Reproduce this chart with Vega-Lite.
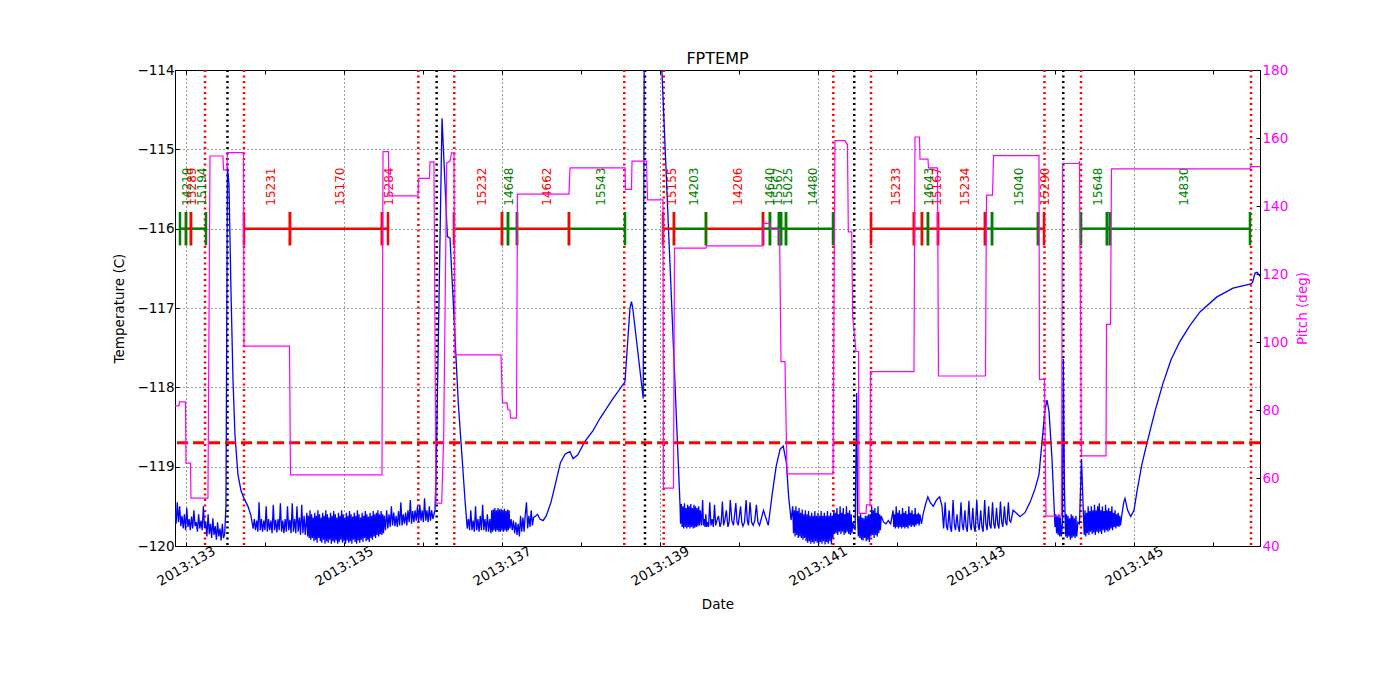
{
"$schema": "https://vega.github.io/schema/vega-lite/v6.json",
"width": 1085, "height": 476,
"autosize": {"type": "none"},
"padding": {"left": 175, "top": 70, "right": 140, "bottom": 154},
"title": {"text": "FPTEMP", "fontSize": 16, "fontWeight": "normal", "font": "DejaVu Sans", "offset": -4, "color": "black"},
"config": {
  "font": "DejaVu Sans",
  "view": {"stroke": "black", "strokeWidth": 1},
  "axis": {"labelFont": "DejaVu Sans", "labelFontSize": 13.5, "titleFont": "DejaVu Sans", "titleFontSize": 13.5, "titleFontWeight": "normal", "labelColor": "black", "titleColor": "black", "tickColor": "black", "domain": false, "gridColor": "black", "gridDash": [1, 3], "gridWidth": 0.8, "tickSize": -4, "tickWidth": 1}
},
"datasets": {
"ev": [{"d":133.241,"k":"rad"},{"d":133.734,"k":"rad"},{"d":135.941,"k":"rad"},{"d":136.396,"k":"rad"},{"d":138.548,"k":"rad"},{"d":139.047,"k":"rad"},{"d":141.194,"k":"rad"},{"d":141.671,"k":"rad"},{"d":143.867,"k":"rad"},{"d":144.329,"k":"rad"},{"d":146.481,"k":"rad"},
{"d":133.525,"k":"peri"},{"d":136.173,"k":"peri"},{"d":138.81,"k":"peri"},{"d":141.459,"k":"peri"},{"d":144.105,"k":"peri"}],
"seg": [
{"s":132.924,"e":133.000,"id":"14219","cat":"b"},
{"s":133.000,"e":133.063,"id":"15289","cat":"a"},
{"s":133.063,"e":133.253,"id":"15194","cat":"b"},
{"s":133.734,"e":134.316,"id":"15231","cat":"a"},
{"s":134.316,"e":135.481,"id":"15170","cat":"a"},
{"s":135.481,"e":135.557,"id":"15284","cat":"a"},
{"s":136.392,"e":137.000,"id":"15232","cat":"a"},
{"s":137.000,"e":137.076,"id":"14648","cat":"b"},
{"s":137.076,"e":137.190,"id":"","cat":"b"},
{"s":137.190,"e":137.848,"id":"14662","cat":"a"},
{"s":137.848,"e":138.557,"id":"15543","cat":"b"},
{"s":139.038,"e":139.177,"id":"15155","cat":"a"},
{"s":139.177,"e":139.582,"id":"14203","cat":"b"},
{"s":139.582,"e":140.304,"id":"14206","cat":"a"},
{"s":140.304,"e":140.392,"id":"14640","cat":"b"},
{"s":140.392,"e":140.506,"id":"15567","cat":"b"},
{"s":140.506,"e":140.532,"id":"","cat":"b"},
{"s":140.532,"e":140.595,"id":"15025","cat":"b"},
{"s":140.595,"e":141.190,"id":"14480","cat":"b"},
{"s":141.671,"e":142.215,"id":"15233","cat":"a"},
{"s":142.215,"e":142.316,"id":"","cat":"a"},
{"s":142.316,"e":142.392,"id":"14643","cat":"b"},
{"s":142.392,"e":142.519,"id":"15167","cat":"a"},
{"s":142.519,"e":143.114,"id":"15234","cat":"a"},
{"s":143.114,"e":143.203,"id":"","cat":"b"},
{"s":143.203,"e":143.785,"id":"15040","cat":"b"},
{"s":143.785,"e":143.861,"id":"15290","cat":"a"},
{"s":144.329,"e":144.658,"id":"15648","cat":"b"},
{"s":144.658,"e":144.696,"id":"","cat":"b"},
{"s":144.696,"e":146.468,"id":"14830","cat":"b"}
],
"pitch": [
{"d":132.861,"p":81.2},{"d":132.911,"p":81.2},{"d":132.918,"p":82.4},{"d":132.994,"p":82.4},{"d":133.0,"p":64.4},{"d":133.057,"p":64.4},{"d":133.063,"p":54.1},{"d":133.278,"p":54.1},{"d":133.304,"p":154.7},{"d":133.468,"p":154.7},{"d":133.475,"p":150.6},{"d":133.519,"p":150.6},{"d":133.525,"p":155.7},{"d":133.728,"p":155.7},{"d":133.734,"p":98.8},{"d":134.31,"p":98.8},{"d":134.323,"p":60.9},{"d":135.481,"p":60.9},{"d":135.494,"p":156.0},{"d":135.563,"p":156.0},{"d":135.57,"p":143.0},{"d":135.937,"p":143.0},{"d":135.943,"p":148.1},{"d":136.082,"p":148.1},{"d":136.089,"p":153.0},{"d":136.139,"p":153.0},{"d":136.165,"p":52.6},{"d":136.237,"p":52.6},{"d":136.262,"p":72.1},{"d":136.3,"p":152.6},{"d":136.342,"p":153.2},{"d":136.361,"p":155.6},{"d":136.392,"p":155.6},{"d":136.405,"p":96.2},{"d":136.987,"p":96.2},{"d":137.006,"p":82.1},{"d":137.063,"p":82.1},{"d":137.076,"p":80.0},{"d":137.101,"p":80.0},{"d":137.108,"p":77.6},{"d":137.184,"p":77.6},{"d":137.196,"p":143.5},{"d":137.848,"p":143.5},{"d":137.861,"p":151.2},{"d":138.557,"p":151.2},{"d":138.563,"p":144.9},{"d":138.639,"p":144.9},{"d":138.646,"p":153.2},{"d":138.829,"p":153.2},{"d":138.842,"p":141.8},{"d":139.038,"p":141.8},{"d":139.044,"p":57.0},{"d":139.171,"p":57.0},{"d":139.184,"p":127.6},{"d":139.582,"p":127.6},{"d":139.589,"p":128.3},{"d":140.297,"p":128.3},{"d":140.31,"p":134.9},{"d":140.392,"p":134.9},{"d":140.399,"p":133.1},{"d":140.513,"p":133.1},{"d":140.532,"p":94.2},{"d":140.582,"p":94.2},{"d":140.608,"p":61.2},{"d":141.19,"p":61.2},{"d":141.215,"p":159.2},{"d":141.342,"p":159.2},{"d":141.363,"p":158.2},{"d":141.373,"p":158.2},{"d":141.384,"p":132.4},{"d":141.427,"p":132.4},{"d":141.439,"p":107.4},{"d":141.481,"p":97.2},{"d":141.513,"p":97.2},{"d":141.519,"p":49.6},{"d":141.608,"p":49.6},{"d":141.614,"p":52.1},{"d":141.658,"p":52.1},{"d":141.665,"p":91.3},{"d":142.215,"p":91.3},{"d":142.228,"p":160.3},{"d":142.285,"p":160.3},{"d":142.291,"p":153.8},{"d":142.392,"p":153.8},{"d":142.399,"p":151.2},{"d":142.513,"p":151.2},{"d":142.525,"p":90.0},{"d":143.12,"p":90.0},{"d":143.133,"p":143.2},{"d":143.209,"p":143.2},{"d":143.222,"p":154.8},{"d":143.797,"p":154.8},{"d":143.804,"p":89.0},{"d":143.867,"p":89.0},{"d":143.886,"p":48.8},{"d":144.082,"p":48.8},{"d":144.095,"p":152.5},{"d":144.297,"p":152.5},{"d":144.31,"p":152.9},{"d":144.335,"p":66.5},{"d":144.646,"p":66.5},{"d":144.652,"p":105.2},{"d":144.703,"p":105.2},{"d":144.715,"p":150.9},{"d":146.468,"p":150.9},{"d":146.475,"p":151.6},{"d":146.595,"p":151.6}
],
"temp": [
{"d":132.861,"t":-119.55},{"d":132.875,"t":-119.72},{"d":132.89,"t":-119.45},{"d":132.905,"t":-119.7},{"d":132.92,"t":-119.5},{"d":132.935,"t":-119.75},{"d":132.95,"t":-119.62},{"d":132.965,"t":-119.78},{"d":132.98,"t":-119.6},{"d":132.995,"t":-119.8},{"d":133.01,"t":-119.52},{"d":133.025,"t":-119.76},{"d":133.04,"t":-119.66},{"d":133.055,"t":-119.8},{"d":133.07,"t":-119.63},{"d":133.085,"t":-119.78},{"d":133.1,"t":-119.55},{"d":133.115,"t":-119.75},{"d":133.13,"t":-119.7},{"d":133.145,"t":-119.82},{"d":133.16,"t":-119.6},{"d":133.175,"t":-119.78},{"d":133.19,"t":-119.68},{"d":133.205,"t":-119.8},{"d":133.22,"t":-119.5},{"d":133.235,"t":-119.77},{"d":133.25,"t":-119.7},{"d":133.265,"t":-119.88},{"d":133.28,"t":-119.6},{"d":133.295,"t":-119.85},{"d":133.31,"t":-119.72},{"d":133.325,"t":-119.9},{"d":133.34,"t":-119.65},{"d":133.355,"t":-119.86},{"d":133.37,"t":-119.75},{"d":133.385,"t":-119.92},{"d":133.4,"t":-119.7},{"d":133.415,"t":-119.88},{"d":133.43,"t":-119.78},{"d":133.445,"t":-119.93},{"d":133.46,"t":-119.72},{"d":133.475,"t":-119.9},{"d":133.49,"t":-119.85},{"d":133.506,"t":-119.5},{"d":133.525,"t":-115.22},{"d":133.544,"t":-115.45},{"d":133.57,"t":-116.8},{"d":133.595,"t":-117.9},{"d":133.62,"t":-118.6},{"d":133.658,"t":-119.1},{"d":133.696,"t":-119.3},{"d":133.734,"t":-119.4},{"d":133.785,"t":-119.5},{"d":133.823,"t":-119.62},
{"d":133.85,"t":-119.78},{"d":133.865,"t":-119.66},{"d":133.88,"t":-119.8},{"d":133.895,"t":-119.68},{"d":133.91,"t":-119.82},{"d":133.925,"t":-119.45},{"d":133.94,"t":-119.8},{"d":133.955,"t":-119.66},{"d":133.97,"t":-119.82},{"d":133.985,"t":-119.68},{"d":134.0,"t":-119.8},{"d":134.015,"t":-119.5},{"d":134.03,"t":-119.82},{"d":134.045,"t":-119.66},{"d":134.06,"t":-119.8},{"d":134.075,"t":-119.68},{"d":134.09,"t":-119.84},{"d":134.105,"t":-119.48},{"d":134.12,"t":-119.8},{"d":134.135,"t":-119.67},{"d":134.15,"t":-119.83},{"d":134.165,"t":-119.66},{"d":134.18,"t":-119.8},{"d":134.195,"t":-119.46},{"d":134.21,"t":-119.82},{"d":134.225,"t":-119.68},{"d":134.24,"t":-119.84},{"d":134.255,"t":-119.66},{"d":134.27,"t":-119.82},{"d":134.285,"t":-119.5},{"d":134.3,"t":-119.8},{"d":134.315,"t":-119.67},{"d":134.33,"t":-119.84},{"d":134.345,"t":-119.46},{"d":134.36,"t":-119.82},{"d":134.375,"t":-119.66},{"d":134.39,"t":-119.84},{"d":134.405,"t":-119.5},{"d":134.42,"t":-119.82},{"d":134.435,"t":-119.64},{"d":134.45,"t":-119.86},{"d":134.465,"t":-119.48},{"d":134.48,"t":-119.84},{"d":134.495,"t":-119.62},{"d":134.51,"t":-119.86},
{"d":134.53,"t":-119.58},{"d":134.54,"t":-119.88},{"d":134.55,"t":-119.62},{"d":134.56,"t":-119.9},{"d":134.57,"t":-119.55},{"d":134.58,"t":-119.92},{"d":134.59,"t":-119.6},{"d":134.6,"t":-119.9},{"d":134.61,"t":-119.64},{"d":134.62,"t":-119.94},{"d":134.63,"t":-119.58},{"d":134.64,"t":-119.92},{"d":134.65,"t":-119.62},{"d":134.66,"t":-119.96},{"d":134.67,"t":-119.55},{"d":134.68,"t":-119.9},{"d":134.69,"t":-119.6},{"d":134.7,"t":-119.94},{"d":134.71,"t":-119.64},{"d":134.72,"t":-119.96},{"d":134.73,"t":-119.58},{"d":134.74,"t":-119.92},{"d":134.75,"t":-119.62},{"d":134.76,"t":-119.97},{"d":134.77,"t":-119.55},{"d":134.78,"t":-119.94},{"d":134.79,"t":-119.6},{"d":134.8,"t":-119.96},{"d":134.81,"t":-119.64},{"d":134.82,"t":-119.92},{"d":134.83,"t":-119.58},{"d":134.84,"t":-119.97},{"d":134.85,"t":-119.62},{"d":134.86,"t":-119.94},{"d":134.87,"t":-119.56},{"d":134.88,"t":-119.96},{"d":134.89,"t":-119.6},{"d":134.9,"t":-119.93},{"d":134.91,"t":-119.64},{"d":134.92,"t":-119.97},{"d":134.93,"t":-119.58},{"d":134.94,"t":-119.95},{"d":134.95,"t":-119.62},{"d":134.96,"t":-119.92},{"d":134.97,"t":-119.55},{"d":134.98,"t":-119.96},{"d":134.99,"t":-119.6},{"d":135.0,"t":-119.94},{"d":135.01,"t":-119.64},{"d":135.02,"t":-119.97},{"d":135.03,"t":-119.58},{"d":135.04,"t":-119.93},{"d":135.05,"t":-119.62},{"d":135.06,"t":-119.96},{"d":135.07,"t":-119.56},{"d":135.08,"t":-119.94},{"d":135.09,"t":-119.6},{"d":135.1,"t":-119.97},{"d":135.11,"t":-119.63},{"d":135.12,"t":-119.92},{"d":135.13,"t":-119.58},{"d":135.14,"t":-119.95},{"d":135.15,"t":-119.62},{"d":135.16,"t":-119.97},{"d":135.17,"t":-119.55},{"d":135.18,"t":-119.93},{"d":135.19,"t":-119.6},{"d":135.2,"t":-119.96},{"d":135.21,"t":-119.64},{"d":135.22,"t":-119.92},{"d":135.23,"t":-119.58},{"d":135.24,"t":-119.95},{"d":135.25,"t":-119.62},{"d":135.26,"t":-119.9},{"d":135.27,"t":-119.56},{"d":135.28,"t":-119.94},{"d":135.29,"t":-119.6},{"d":135.3,"t":-119.92},{"d":135.31,"t":-119.63},{"d":135.32,"t":-119.95},{"d":135.33,"t":-119.58},{"d":135.34,"t":-119.9},{"d":135.35,"t":-119.62},{"d":135.36,"t":-119.92},{"d":135.37,"t":-119.56},{"d":135.38,"t":-119.88},{"d":135.39,"t":-119.6},{"d":135.4,"t":-119.9},{"d":135.41,"t":-119.58},{"d":135.42,"t":-119.86},{"d":135.43,"t":-119.55},{"d":135.44,"t":-119.88},{"d":135.45,"t":-119.6},{"d":135.46,"t":-119.85},{"d":135.47,"t":-119.56},{"d":135.48,"t":-119.86},{"d":135.49,"t":-119.6},{"d":135.5,"t":-119.84},{"d":135.51,"t":-119.62},
{"d":135.525,"t":-119.8},{"d":135.54,"t":-119.55},{"d":135.555,"t":-119.78},{"d":135.57,"t":-119.6},{"d":135.585,"t":-119.76},{"d":135.6,"t":-119.5},{"d":135.615,"t":-119.74},{"d":135.63,"t":-119.58},{"d":135.645,"t":-119.75},{"d":135.66,"t":-119.62},{"d":135.675,"t":-119.76},{"d":135.69,"t":-119.56},{"d":135.705,"t":-119.74},{"d":135.72,"t":-119.45},{"d":135.735,"t":-119.74},{"d":135.75,"t":-119.6},{"d":135.765,"t":-119.72},{"d":135.78,"t":-119.58},{"d":135.795,"t":-119.74},{"d":135.81,"t":-119.55},{"d":135.825,"t":-119.7},{"d":135.84,"t":-119.42},{"d":135.855,"t":-119.72},{"d":135.87,"t":-119.56},{"d":135.885,"t":-119.7},{"d":135.9,"t":-119.55},{"d":135.915,"t":-119.68},{"d":135.93,"t":-119.5},{"d":135.945,"t":-119.7},{"d":135.96,"t":-119.48},{"d":135.975,"t":-119.68},{"d":135.99,"t":-119.55},{"d":136.005,"t":-119.7},{"d":136.02,"t":-119.4},{"d":136.035,"t":-119.68},{"d":136.05,"t":-119.55},{"d":136.065,"t":-119.7},{"d":136.08,"t":-119.5},{"d":136.095,"t":-119.68},{"d":136.11,"t":-119.55},{"d":136.125,"t":-119.66},{"d":136.139,"t":-119.6},
{"d":136.152,"t":-119.55},{"d":136.165,"t":-119.13},{"d":136.241,"t":-114.61},{"d":136.309,"t":-116.1},{"d":136.342,"t":-116.12},{"d":136.384,"t":-116.94},{"d":136.447,"t":-118.2},{"d":136.532,"t":-119.42},
{"d":136.56,"t":-119.78},{"d":136.575,"t":-119.66},{"d":136.59,"t":-119.8},{"d":136.605,"t":-119.55},{"d":136.62,"t":-119.8},{"d":136.635,"t":-119.68},{"d":136.65,"t":-119.82},{"d":136.665,"t":-119.5},{"d":136.68,"t":-119.8},{"d":136.695,"t":-119.66},{"d":136.71,"t":-119.82},{"d":136.725,"t":-119.62},{"d":136.74,"t":-119.8},{"d":136.755,"t":-119.48},{"d":136.77,"t":-119.8},{"d":136.785,"t":-119.66},{"d":136.8,"t":-119.82},{"d":136.815,"t":-119.6},{"d":136.83,"t":-119.82},{"d":136.845,"t":-119.66},{"d":136.86,"t":-119.84},{"d":136.87,"t":-119.55},{"d":136.88,"t":-119.82},{"d":136.89,"t":-119.54},{"d":136.9,"t":-119.8},{"d":136.91,"t":-119.52},{"d":136.92,"t":-119.82},{"d":136.93,"t":-119.55},{"d":136.94,"t":-119.8},{"d":136.95,"t":-119.52},{"d":136.96,"t":-119.82},{"d":136.97,"t":-119.54},{"d":136.98,"t":-119.82},{"d":136.99,"t":-119.53},{"d":137.0,"t":-119.8},{"d":137.01,"t":-119.55},{"d":137.02,"t":-119.82},{"d":137.03,"t":-119.53},{"d":137.04,"t":-119.8},{"d":137.05,"t":-119.56},{"d":137.06,"t":-119.82},{"d":137.07,"t":-119.54},{"d":137.08,"t":-119.8},{"d":137.09,"t":-119.55},{"d":137.1,"t":-119.78},{"d":137.115,"t":-119.66},{"d":137.13,"t":-119.8},{"d":137.145,"t":-119.68},{"d":137.16,"t":-119.84},{"d":137.175,"t":-119.7},{"d":137.19,"t":-119.86},{"d":137.205,"t":-119.72},{"d":137.22,"t":-119.88},{"d":137.235,"t":-119.62},{"d":137.25,"t":-119.82},{"d":137.265,"t":-119.64},{"d":137.28,"t":-119.82},{"d":137.295,"t":-119.6},{"d":137.31,"t":-119.45},{"d":137.325,"t":-119.78},{"d":137.34,"t":-119.62},{"d":137.355,"t":-119.76},{"d":137.37,"t":-119.55},{"d":137.385,"t":-119.74},{"d":137.4,"t":-119.64},
{"d":137.43,"t":-119.62},{"d":137.45,"t":-119.6},{"d":137.48,"t":-119.66},{"d":137.52,"t":-119.68},{"d":137.56,"t":-119.62},{"d":137.62,"t":-119.45},{"d":137.68,"t":-119.2},{"d":137.74,"t":-118.95},{"d":137.8,"t":-118.84},{"d":137.86,"t":-118.81},{"d":137.9,"t":-118.9},{"d":137.96,"t":-118.85},{"d":138.05,"t":-118.68},{"d":138.15,"t":-118.55},{"d":138.241,"t":-118.39},{"d":138.4,"t":-118.15},{"d":138.557,"t":-117.93},{"d":138.62,"t":-117.0},{"d":138.639,"t":-116.92},{"d":138.655,"t":-117.0},{"d":138.788,"t":-118.14},{"d":138.805,"t":-112},{"d":138.94,"t":-112},{"d":139.253,"t":-119.46},
{"d":139.26,"t":-119.72},{"d":139.27,"t":-119.47},{"d":139.28,"t":-119.76},{"d":139.29,"t":-119.5},{"d":139.3,"t":-119.78},{"d":139.31,"t":-119.46},{"d":139.32,"t":-119.76},{"d":139.33,"t":-119.52},{"d":139.34,"t":-119.78},{"d":139.35,"t":-119.48},{"d":139.36,"t":-119.76},{"d":139.37,"t":-119.5},{"d":139.38,"t":-119.78},{"d":139.39,"t":-119.47},{"d":139.4,"t":-119.76},{"d":139.41,"t":-119.52},{"d":139.42,"t":-119.78},{"d":139.43,"t":-119.48},{"d":139.44,"t":-119.77},{"d":139.45,"t":-119.5},{"d":139.46,"t":-119.76},{"d":139.47,"t":-119.52},{"d":139.48,"t":-119.75},{"d":139.49,"t":-119.5},{"d":139.5,"t":-119.74},{"d":139.51,"t":-119.55},
{"d":139.525,"t":-119.74},{"d":139.54,"t":-119.42},{"d":139.55,"t":-119.74},{"d":139.56,"t":-119.66},{"d":139.57,"t":-119.76},{"d":139.58,"t":-119.6},{"d":139.59,"t":-119.76},{"d":139.6,"t":-119.7},{"d":139.615,"t":-119.76},{"d":139.63,"t":-119.45},{"d":139.645,"t":-119.74},{"d":139.66,"t":-119.66},{"d":139.675,"t":-119.76},{"d":139.69,"t":-119.48},{"d":139.705,"t":-119.74},{"d":139.72,"t":-119.68},{"d":139.74,"t":-119.62},{"d":139.76,"t":-119.76},{"d":139.775,"t":-119.7},{"d":139.79,"t":-119.44},{"d":139.805,"t":-119.74},{"d":139.82,"t":-119.68},{"d":139.84,"t":-119.55},{"d":139.86,"t":-119.76},{"d":139.875,"t":-119.7},{"d":139.89,"t":-119.42},{"d":139.91,"t":-119.68},{"d":139.93,"t":-119.74},{"d":139.96,"t":-119.46},{"d":139.975,"t":-119.7},{"d":139.99,"t":-119.74},{"d":140.02,"t":-119.5},{"d":140.035,"t":-119.7},{"d":140.05,"t":-119.75},{"d":140.07,"t":-119.7},{"d":140.09,"t":-119.42},{"d":140.105,"t":-119.68},{"d":140.12,"t":-119.74},{"d":140.14,"t":-119.45},{"d":140.16,"t":-119.7},{"d":140.18,"t":-119.74},{"d":140.2,"t":-119.68},{"d":140.22,"t":-119.48},{"d":140.24,"t":-119.7},{"d":140.26,"t":-119.74},
{"d":140.31,"t":-119.55},{"d":140.37,"t":-119.74},{"d":140.42,"t":-119.35},{"d":140.47,"t":-119.0},{"d":140.52,"t":-118.78},{"d":140.56,"t":-118.74},{"d":140.6,"t":-118.95},{"d":140.63,"t":-119.4},{"d":140.66,"t":-119.67},
{"d":140.68,"t":-119.5},{"d":140.69,"t":-119.84},{"d":140.7,"t":-119.55},{"d":140.71,"t":-119.88},{"d":140.72,"t":-119.5},{"d":140.73,"t":-119.86},{"d":140.74,"t":-119.56},{"d":140.75,"t":-119.9},{"d":140.76,"t":-119.52},{"d":140.77,"t":-119.88},{"d":140.78,"t":-119.58},{"d":140.79,"t":-119.9},{"d":140.8,"t":-119.54},{"d":140.81,"t":-119.92},{"d":140.82,"t":-119.6},{"d":140.83,"t":-119.9},{"d":140.84,"t":-119.55},{"d":140.85,"t":-119.94},{"d":140.86,"t":-119.6},{"d":140.87,"t":-119.96},{"d":140.88,"t":-119.56},{"d":140.89,"t":-119.94},{"d":140.9,"t":-119.62},{"d":140.91,"t":-119.97},{"d":140.92,"t":-119.58},{"d":140.93,"t":-119.95},{"d":140.94,"t":-119.62},{"d":140.95,"t":-119.97},{"d":140.96,"t":-119.56},{"d":140.97,"t":-119.94},{"d":140.98,"t":-119.62},{"d":140.99,"t":-119.96},{"d":141.0,"t":-119.58},{"d":141.01,"t":-119.98},{"d":141.02,"t":-119.62},{"d":141.03,"t":-119.95},{"d":141.04,"t":-119.56},{"d":141.05,"t":-119.97},{"d":141.06,"t":-119.62},{"d":141.07,"t":-119.94},{"d":141.08,"t":-119.58},{"d":141.09,"t":-119.98},{"d":141.1,"t":-119.62},{"d":141.11,"t":-119.95},{"d":141.12,"t":-119.56},{"d":141.13,"t":-119.97},{"d":141.14,"t":-119.62},{"d":141.15,"t":-119.94},{"d":141.16,"t":-119.58},{"d":141.17,"t":-119.98},{"d":141.18,"t":-119.62},{"d":141.19,"t":-119.9},{"d":141.2,"t":-119.55},{"d":141.21,"t":-119.85},{"d":141.22,"t":-119.58},{"d":141.23,"t":-119.84},{"d":141.24,"t":-119.52},{"d":141.25,"t":-119.86},{"d":141.26,"t":-119.6},{"d":141.27,"t":-119.82},{"d":141.28,"t":-119.5},{"d":141.29,"t":-119.85},{"d":141.3,"t":-119.58},{"d":141.31,"t":-119.82},{"d":141.32,"t":-119.52},{"d":141.33,"t":-119.86},{"d":141.34,"t":-119.6},{"d":141.35,"t":-119.84},{"d":141.36,"t":-119.5},{"d":141.37,"t":-119.82},{"d":141.38,"t":-119.58},{"d":141.39,"t":-119.85},{"d":141.4,"t":-119.55},{"d":141.41,"t":-119.86},{"d":141.42,"t":-119.6},{"d":141.43,"t":-119.84},{"d":141.44,"t":-119.7},
{"d":141.47,"t":-119.8},{"d":141.49,"t":-118.07},{"d":141.5,"t":-119.6},{"d":141.51,"t":-119.88},{"d":141.52,"t":-119.62},{"d":141.53,"t":-119.9},{"d":141.54,"t":-119.6},{"d":141.55,"t":-119.92},{"d":141.56,"t":-119.64},{"d":141.57,"t":-119.93},{"d":141.58,"t":-119.65},{"d":141.59,"t":-119.9},{"d":141.6,"t":-119.62},{"d":141.61,"t":-119.94},{"d":141.62,"t":-119.62},{"d":141.63,"t":-119.92},{"d":141.64,"t":-119.6},{"d":141.65,"t":-119.95},{"d":141.66,"t":-119.6},
{"d":141.67,"t":-119.88},{"d":141.68,"t":-119.5},{"d":141.69,"t":-119.86},{"d":141.7,"t":-119.55},{"d":141.71,"t":-119.9},{"d":141.72,"t":-119.52},{"d":141.73,"t":-119.86},{"d":141.74,"t":-119.58},{"d":141.75,"t":-119.88},{"d":141.76,"t":-119.5},{"d":141.77,"t":-119.84},{"d":141.78,"t":-119.6},{"d":141.79,"t":-119.8},{"d":141.8,"t":-119.62},{"d":141.83,"t":-119.7},{"d":141.86,"t":-119.72},{"d":141.89,"t":-119.68},{"d":141.92,"t":-119.72},{"d":141.95,"t":-119.55},{"d":141.96,"t":-119.76},{"d":141.97,"t":-119.6},{"d":141.98,"t":-119.78},{"d":141.99,"t":-119.5},{"d":142.0,"t":-119.76},{"d":142.01,"t":-119.58},{"d":142.02,"t":-119.78},{"d":142.03,"t":-119.55},{"d":142.04,"t":-119.76},{"d":142.05,"t":-119.6},{"d":142.06,"t":-119.78},{"d":142.07,"t":-119.52},{"d":142.08,"t":-119.76},{"d":142.09,"t":-119.58},{"d":142.1,"t":-119.78},{"d":142.11,"t":-119.56},{"d":142.12,"t":-119.76},{"d":142.13,"t":-119.6},{"d":142.14,"t":-119.78},{"d":142.15,"t":-119.5},{"d":142.16,"t":-119.74},{"d":142.17,"t":-119.58},{"d":142.18,"t":-119.76},{"d":142.19,"t":-119.55},{"d":142.2,"t":-119.74},{"d":142.21,"t":-119.6},{"d":142.22,"t":-119.76},{"d":142.23,"t":-119.52},{"d":142.24,"t":-119.74},{"d":142.25,"t":-119.6},{"d":142.26,"t":-119.72},{"d":142.27,"t":-119.58},{"d":142.28,"t":-119.74},{"d":142.29,"t":-119.6},{"d":142.31,"t":-119.72},{"d":142.33,"t":-119.6},{"d":142.36,"t":-119.48},{"d":142.39,"t":-119.38},{"d":142.42,"t":-119.45},{"d":142.46,"t":-119.5},{"d":142.5,"t":-119.42},{"d":142.54,"t":-119.38},{"d":142.57,"t":-119.5},{"d":142.59,"t":-119.78},{"d":142.61,"t":-119.45},{"d":142.625,"t":-119.74},{"d":142.64,"t":-119.8},{"d":142.66,"t":-119.55},{"d":142.675,"t":-119.76},{"d":142.69,"t":-119.82},{"d":142.71,"t":-119.42},{"d":142.725,"t":-119.72},{"d":142.74,"t":-119.8},{"d":142.76,"t":-119.6},{"d":142.775,"t":-119.76},{"d":142.79,"t":-119.82},{"d":142.81,"t":-119.45},{"d":142.825,"t":-119.72},{"d":142.84,"t":-119.8},{"d":142.86,"t":-119.55},{"d":142.875,"t":-119.76},{"d":142.89,"t":-119.82},{"d":142.91,"t":-119.43},{"d":142.925,"t":-119.72},{"d":142.94,"t":-119.8},{"d":142.96,"t":-119.52},{"d":142.975,"t":-119.76},{"d":142.99,"t":-119.82},{"d":143.01,"t":-119.42},{"d":143.025,"t":-119.72},{"d":143.04,"t":-119.8},{"d":143.06,"t":-119.55},{"d":143.075,"t":-119.76},{"d":143.09,"t":-119.82},{"d":143.11,"t":-119.42},{"d":143.125,"t":-119.72},{"d":143.14,"t":-119.8},{"d":143.16,"t":-119.5},{"d":143.175,"t":-119.74},{"d":143.19,"t":-119.78},{"d":143.21,"t":-119.45},{"d":143.225,"t":-119.72},{"d":143.24,"t":-119.78},{"d":143.26,"t":-119.52},{"d":143.275,"t":-119.72},{"d":143.29,"t":-119.78},{"d":143.31,"t":-119.44},{"d":143.325,"t":-119.7},{"d":143.34,"t":-119.76},{"d":143.36,"t":-119.5},{"d":143.375,"t":-119.7},{"d":143.39,"t":-119.74},{"d":143.41,"t":-119.45},{"d":143.425,"t":-119.68},{"d":143.44,"t":-119.7},{"d":143.47,"t":-119.55},
{"d":143.506,"t":-119.58},{"d":143.557,"t":-119.63},{"d":143.62,"t":-119.58},{"d":143.684,"t":-119.45},{"d":143.747,"t":-119.28},{"d":143.797,"t":-119.1},{"d":143.835,"t":-118.7},{"d":143.873,"t":-118.28},{"d":143.899,"t":-118.16},{"d":143.924,"t":-118.3},{"d":143.962,"t":-118.9},{"d":144.0,"t":-119.76},
{"d":144.01,"t":-119.6},{"d":144.02,"t":-119.84},{"d":144.03,"t":-119.62},{"d":144.04,"t":-119.86},{"d":144.05,"t":-119.6},{"d":144.06,"t":-119.88},{"d":144.07,"t":-119.64},{"d":144.08,"t":-119.88},{"d":144.095,"t":-119.7},{"d":144.105,"t":-117.64},{"d":144.12,"t":-119.3},{"d":144.135,"t":-119.88},{"d":144.145,"t":-119.6},{"d":144.155,"t":-119.9},{"d":144.165,"t":-119.62},{"d":144.175,"t":-119.88},{"d":144.185,"t":-119.65},{"d":144.195,"t":-119.92},{"d":144.205,"t":-119.6},{"d":144.215,"t":-119.9},{"d":144.225,"t":-119.62},{"d":144.235,"t":-119.88},{"d":144.245,"t":-119.65},{"d":144.255,"t":-119.9},{"d":144.265,"t":-119.62},{"d":144.275,"t":-119.88},{"d":144.29,"t":-119.7},{"d":144.31,"t":-119.72},{"d":144.335,"t":-118.9},
{"d":144.36,"t":-119.6},{"d":144.37,"t":-119.86},{"d":144.38,"t":-119.55},{"d":144.39,"t":-119.88},{"d":144.4,"t":-119.58},{"d":144.41,"t":-119.84},{"d":144.42,"t":-119.5},{"d":144.43,"t":-119.86},{"d":144.44,"t":-119.56},{"d":144.45,"t":-119.82},{"d":144.46,"t":-119.5},{"d":144.47,"t":-119.85},{"d":144.48,"t":-119.55},{"d":144.49,"t":-119.83},{"d":144.5,"t":-119.48},{"d":144.51,"t":-119.86},{"d":144.52,"t":-119.55},{"d":144.53,"t":-119.82},{"d":144.54,"t":-119.5},{"d":144.55,"t":-119.84},{"d":144.56,"t":-119.46},{"d":144.57,"t":-119.82},{"d":144.58,"t":-119.55},{"d":144.59,"t":-119.85},{"d":144.6,"t":-119.5},{"d":144.61,"t":-119.8},{"d":144.62,"t":-119.56},{"d":144.63,"t":-119.83},{"d":144.64,"t":-119.48},{"d":144.65,"t":-119.8},{"d":144.66,"t":-119.55},{"d":144.67,"t":-119.82},{"d":144.68,"t":-119.52},{"d":144.69,"t":-119.8},{"d":144.7,"t":-119.56},{"d":144.71,"t":-119.78},{"d":144.72,"t":-119.5},{"d":144.73,"t":-119.8},{"d":144.74,"t":-119.58},{"d":144.75,"t":-119.76},{"d":144.76,"t":-119.55},{"d":144.77,"t":-119.78},{"d":144.78,"t":-119.6},{"d":144.79,"t":-119.75},{"d":144.8,"t":-119.58},{"d":144.81,"t":-119.76},{"d":144.82,"t":-119.62},{"d":144.83,"t":-119.74},{"d":144.84,"t":-119.65},
{"d":144.87,"t":-119.45},{"d":144.886,"t":-119.4},{"d":144.92,"t":-119.55},{"d":144.958,"t":-119.63},
{"d":145.0,"t":-119.55},{"d":145.04,"t":-119.3},{"d":145.1,"t":-118.97},{"d":145.165,"t":-118.7},{"d":145.266,"t":-118.3},{"d":145.367,"t":-117.95},{"d":145.47,"t":-117.65},{"d":145.582,"t":-117.42},{"d":145.709,"t":-117.22},{"d":145.835,"t":-117.05},{"d":146.05,"t":-116.86},{"d":146.253,"t":-116.75},{"d":146.468,"t":-116.7},{"d":146.5,"t":-116.68},{"d":146.532,"t":-116.56},{"d":146.56,"t":-116.55},{"d":146.595,"t":-116.6}
]
},
"layer": [
  {"layer": [
    {"data": {"name": "ev"}, "transform": [{"filter": "datum.k == 'rad'"}],
     "mark": {"type": "rule", "color": "#ff0000", "strokeWidth": 2.5, "strokeDash": [2, 3.5]},
     "encoding": {"x": {"field": "d", "type": "quantitative", "title": "Date"}}},
    {"data": {"name": "ev"}, "transform": [{"filter": "datum.k == 'peri'"}],
     "mark": {"type": "rule", "color": "black", "strokeWidth": 2.5, "strokeDash": [2, 3.5]},
     "encoding": {"x": {"field": "d", "type": "quantitative", "title": "Date"}}},
    {"data": {"name": "temp"},
     "mark": {"type": "line", "color": "#0000ff", "strokeWidth": 1.3, "clip": true},
     "encoding": {
       "x": {"field": "d", "type": "quantitative", "title": "Date",
             "scale": {"domain": [132.861, 146.595], "nice": false, "zero": false},
             "axis": {"values": [133,134,135,136,137,138,139,140,141,142,143,144,145,146],
                      "labelExpr": "datum.value % 2 == 1 ? '2013:' + datum.value : ''",
                      "labelAngle": -30, "labelAlign": "center", "labelBaseline": "middle",
                      "labelPadding": 24, "labelOverlap": false, "labelFlush": false,
                      "grid": true,
                      "gridOpacity": {"condition": {"test": "datum.value % 2 == 1", "value": 1}, "value": 0},
                      "titlePadding": 10}},
       "y": {"field": "t", "type": "quantitative", "title": "Temperature (C)",
             "scale": {"domain": [-120, -114], "nice": false, "zero": false},
             "axis": {"values": [-120,-119,-118,-117,-116,-115,-114], "format": "d", "grid": true, "labelPadding": 5, "titlePadding": 10}}}},
    {"data": {"values": [{}]},
     "mark": {"type": "rule", "color": "#ff0000", "strokeWidth": 3, "strokeDash": [11, 5]},
     "encoding": {"y": {"datum": -118.7}}},
    {"data": {"name": "seg"},
     "mark": {"type": "rule", "strokeWidth": 2.5},
     "encoding": {"x": {"field": "s", "type": "quantitative", "title": "Date"}, "x2": {"field": "e"},
                  "y": {"datum": -116},
                  "color": {"field": "cat", "type": "nominal", "scale": {"domain": ["a", "b"], "range": ["#ff0000", "#008000"]}, "legend": null}}},
    {"data": {"name": "seg"},
     "mark": {"type": "rule", "strokeWidth": 2.5},
     "encoding": {"x": {"field": "s", "type": "quantitative", "title": "Date"},
                  "y": {"datum": -115.79}, "y2": {"datum": -116.21},
                  "color": {"field": "cat", "type": "nominal", "legend": null}}},
    {"data": {"name": "seg"},
     "mark": {"type": "rule", "strokeWidth": 2.5},
     "encoding": {"x": {"field": "e", "type": "quantitative", "title": "Date"},
                  "y": {"datum": -115.79}, "y2": {"datum": -116.21},
                  "color": {"field": "cat", "type": "nominal", "legend": null}}},
    {"data": {"name": "seg"},
     "transform": [{"filter": "datum.id != ''"}, {"calculate": "(datum.s + datum.e) / 2", "as": "mid"}],
     "mark": {"type": "text", "angle": 270, "align": "left", "baseline": "middle", "dx": 23, "dy": 4, "fontSize": 12, "font": "DejaVu Sans"},
     "encoding": {"x": {"field": "mid", "type": "quantitative", "title": "Date"},
                  "y": {"datum": -116},
                  "text": {"field": "id"},
                  "color": {"field": "cat", "type": "nominal", "legend": null}}}
  ]},
  {"data": {"name": "pitch"},
   "mark": {"type": "line", "color": "#ff00ff", "strokeWidth": 1.2, "clip": true},
   "encoding": {
     "x": {"field": "d", "type": "quantitative",
           "axis": {"orient": "top", "values": [133,134,135,136,137,138,139,140,141,142,143,144,145,146], "labels": false, "title": null, "grid": false}},
     "y": {"field": "p", "type": "quantitative", "title": "Pitch (deg)",
           "scale": {"domain": [40, 180], "nice": false, "zero": false},
           "axis": {"orient": "right", "values": [40,60,80,100,120,140,160,180], "grid": false, "labelColor": "#ff00ff", "titleColor": "#ff00ff", "labelPadding": 6, "titlePadding": 22, "titleAngle": 270, "titleBaseline": "bottom"}}}}
],
"resolve": {"scale": {"y": "independent"}, "axis": {"x": "independent", "y": "independent"}}
}
